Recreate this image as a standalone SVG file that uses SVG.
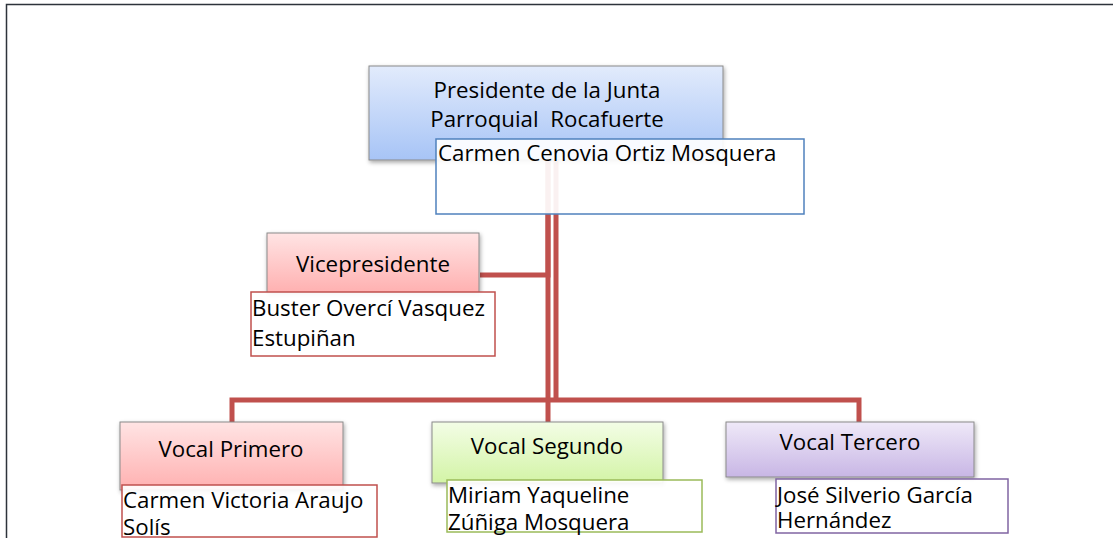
<svg xmlns="http://www.w3.org/2000/svg" width="1113" height="538" viewBox="0 0 1113 538">
<style>
text{font-family:"Open Sans","Noto Sans","DejaVu Sans",sans-serif;font-size:22.3px;fill:#000}
.c{text-anchor:middle}
.conn{fill:none;stroke:#c0504d;stroke-width:5}
.name{fill:#fff;fill-opacity:0.92;stroke-width:1.5}
</style>
<defs>
<linearGradient id="gBlue" x1="0" y1="0" x2="0" y2="1"><stop offset="0" stop-color="#e2ebfc"/><stop offset="1" stop-color="#a7c4f6"/></linearGradient>
<linearGradient id="gRed" x1="0" y1="0" x2="0" y2="1"><stop offset="0" stop-color="#ffe4e4"/><stop offset="1" stop-color="#ffb0b0"/></linearGradient>
<linearGradient id="gGreen" x1="0" y1="0" x2="0" y2="1"><stop offset="0" stop-color="#f3fde6"/><stop offset="1" stop-color="#d3f4a6"/></linearGradient>
<linearGradient id="gPurple" x1="0" y1="0" x2="0" y2="1"><stop offset="0" stop-color="#efe9f8"/><stop offset="1" stop-color="#c8b6e5"/></linearGradient>
<filter id="sh" x="-10%" y="-10%" width="120%" height="130%"><feDropShadow dx="1" dy="2" stdDeviation="2" flood-color="#000" flood-opacity="0.35"/></filter>
</defs>
<g id="frame"><path d="M6.5 538 V4.5 H1113" fill="none" stroke="#2d333b" stroke-width="1.5"/></g>
<g id="connectors">
<path class="conn" d="M548 160 V275 H480"/>
<path class="conn" d="M548 160 V422"/>
<path class="conn" d="M556 160 V400"/>
<path class="conn" d="M232 422 V400 H859 V422"/>
</g>
<g id="presidente">
<rect x="369" y="66" width="354" height="94" fill="url(#gBlue)" stroke="#8a8a8a" stroke-width="1" filter="url(#sh)"/>
<text class="c" x="547" y="98">Presidente de la Junta</text>
<text class="c" x="547" y="127" xml:space="preserve">Parroquial  Rocafuerte</text>
</g>
<g id="presidente-nombre">
<rect class="name" x="436" y="139" width="368" height="75" stroke="#4f81bd"/>
<text x="438" y="161">Carmen Cenovia Ortiz Mosquera</text>
</g>
<g id="vicepresidente">
<rect x="267" y="233" width="212" height="60" fill="url(#gRed)" stroke="#8a8a8a" stroke-width="1" filter="url(#sh)"/>
<text class="c" x="373" y="272">Vicepresidente</text>
</g>
<g id="vicepresidente-nombre">
<rect class="name" x="251" y="292" width="244" height="64" stroke="#c0504d"/>
<text x="252" y="316">Buster Overcí Vasquez</text>
<text x="252" y="346">Estupiñan</text>
</g>
<g id="vocal1">
<rect x="120" y="422" width="223" height="68" fill="url(#gRed)" stroke="#8a8a8a" stroke-width="1" filter="url(#sh)"/>
<text class="c" x="231" y="457">Vocal Primero</text>
</g>
<g id="vocal1-nombre">
<rect class="name" x="122" y="485" width="255" height="52" stroke="#c0504d"/>
<text x="123" y="508">Carmen Victoria Araujo</text>
<text x="123" y="535">Solís</text>
</g>
<g id="vocal2">
<rect x="432" y="422" width="231" height="61" fill="url(#gGreen)" stroke="#8a8a8a" stroke-width="1" filter="url(#sh)"/>
<text class="c" x="547" y="454">Vocal Segundo</text>
</g>
<g id="vocal2-nombre">
<rect class="name" x="447" y="480" width="255" height="52" stroke="#9bbb59"/>
<text x="448" y="503">Miriam Yaqueline</text>
<text x="448" y="530">Zúñiga Mosquera</text>
</g>
<g id="vocal3">
<rect x="726" y="422" width="248" height="55" fill="url(#gPurple)" stroke="#8a8a8a" stroke-width="1" filter="url(#sh)"/>
<text class="c" x="850" y="450">Vocal Tercero</text>
</g>
<g id="vocal3-nombre">
<rect class="name" x="776" y="479" width="232" height="54" stroke="#8064a2"/>
<text x="777" y="503">José Silverio García</text>
<text x="777" y="528">Hernández</text>
</g>
</svg>
